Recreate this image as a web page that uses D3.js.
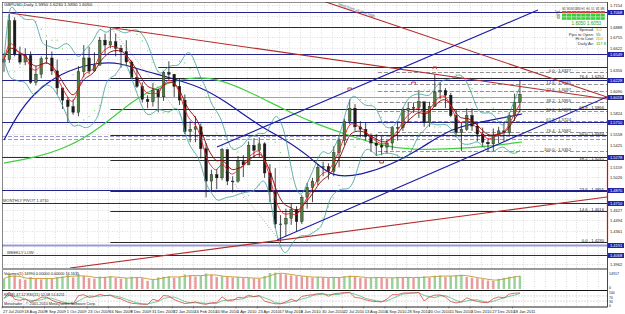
<!DOCTYPE html>
<html>
<head>
<meta charset="utf-8">
<script src="https://d3js.org/d3.v7.min.js"></script>
<style>
  body { margin: 0; background: #fff; }
  svg { display: block; font-family: "Liberation Sans", Arial, sans-serif; }
</style>
</head>
<body>
<div id="vis"></div>
<script>
// GBPUSD daily, grouped in 4 trading-day bars
var firstOpen = 1.6450;
var barCloses = [1.6480,1.6960,1.6550,1.6450,1.6530,1.6200,1.6300,1.6490,1.6500,1.6340,
  1.6130,1.5980,1.5900,1.5830,1.6330,1.6500,1.6340,1.6410,1.6720,1.6660,
  1.6700,1.6620,1.6580,1.6450,1.6260,1.6150,1.5990,1.5960,1.6100,1.6020,
  1.6320,1.6300,1.6150,1.5980,1.5590,1.5620,1.5650,1.5380,1.4980,1.5060,
  1.5020,1.5370,1.4980,1.4980,1.5220,1.5180,1.5420,1.5360,1.5440,1.5080,
  1.4850,1.4450,1.4450,1.4520,1.4630,1.4480,1.4780,1.4900,1.4980,1.5150,
  1.5160,1.5100,1.5330,1.5480,1.5720,1.5880,1.5650,1.5620,1.5530,1.5450,
  1.5420,1.5400,1.5450,1.5640,1.5640,1.5850,1.5880,1.5890,1.5960,1.5700,
  1.5900,1.6080,1.6100,1.6040,1.5790,1.5580,1.5620,1.5790,1.5660,1.5560,
  1.5460,1.5440,1.5540,1.5600,1.5580,1.5790,1.5950,1.6050];
var barHighs = [1.6560,1.7043,1.7000,1.6640,1.6620,1.6580,1.6400,1.6520,1.6720,1.6580,
  1.6480,1.6130,1.6020,1.5990,1.6400,1.6660,1.6640,1.6570,1.6760,1.6800,
  1.6877,1.6800,1.6660,1.6720,1.6470,1.6360,1.6200,1.6040,1.6190,1.6120,
  1.6340,1.6460,1.6300,1.6250,1.6050,1.5720,1.5780,1.5690,1.5450,1.5120,
  1.5130,1.5390,1.5340,1.5040,1.5290,1.5300,1.5470,1.5510,1.5520,1.5460,
  1.5190,1.5140,1.4560,1.4640,1.4700,1.4670,1.4810,1.4960,1.5020,1.5190,
  1.5220,1.5200,1.5410,1.5520,1.5750,1.5990,1.5930,1.5720,1.5700,1.5570,
  1.5560,1.5530,1.5490,1.5660,1.5710,1.5890,1.5950,1.5950,1.6105,1.5950,
  1.5960,1.6298,1.6200,1.6130,1.6070,1.5860,1.5700,1.5880,1.5880,1.5700,
  1.5640,1.5500,1.5630,1.5650,1.5700,1.5830,1.6060,1.6230];
var barLows = [1.6330,1.6440,1.6520,1.6420,1.6410,1.6180,1.6160,1.6250,1.6430,1.6290,
  1.6050,1.5870,1.5707,1.5800,1.5780,1.6260,1.6300,1.6330,1.6450,1.6550,
  1.6620,1.6520,1.6380,1.6400,1.6240,1.6130,1.5950,1.5880,1.5900,1.5830,
  1.5970,1.6230,1.6020,1.5920,1.5560,1.5460,1.5460,1.5260,1.4780,1.4860,
  1.4880,1.4990,1.4930,1.4840,1.4960,1.5030,1.5250,1.5270,1.5270,1.5020,
  1.4720,1.4400,1.4230,1.4300,1.4440,1.4360,1.4450,1.4640,1.4720,1.4930,
  1.5040,1.5000,1.5040,1.5150,1.5420,1.5680,1.5600,1.5520,1.5480,1.5340,
  1.5290,1.5300,1.5320,1.5360,1.5480,1.5600,1.5710,1.5820,1.5760,1.5650,
  1.5650,1.5990,1.5990,1.5880,1.5770,1.5520,1.5350,1.5600,1.5600,1.5470,
  1.5400,1.5340,1.5350,1.5450,1.5470,1.5550,1.5720,1.5830];
var barVolumes = [62,88,79,58,55,71,60,57,66,59,70,74,82,68,85,77,64,61,73,70,
  75,66,60,64,72,68,63,48,55,69,72,74,66,71,86,80,74,78,92,83,
  70,75,72,68,70,64,66,62,60,77,94,97,90,86,80,76,73,70,67,72,
  68,64,70,66,75,79,71,66,63,68,70,66,62,67,71,66,69,64,70,74,
  68,78,80,72,76,82,84,70,66,63,58,50,48,60,66,72,75,78];

var dateLabels = ['27 Jul 2009','18 Aug 2009','9 Sep 2009','1 Oct 2009','23 Oct 2009',
  '16 Nov 2009','8 Dec 2009','31 Dec 2009','22 Jan 2010','16 Feb 2010','10 Mar 2010',
  '1 Apr 2010','23 Apr 2010','17 May 2010','8 Jun 2010','30 Jun 2010','22 Jul 2010',
  '13 Aug 2010','6 Sep 2010','28 Sep 2010','20 Oct 2010','11 Nov 2010','3 Dec 2010',
  '27 Dec 2010','18 Jan 2011'];
var priceTicks = [1.7154,1.7021,1.6888,1.6755,1.6622,1.6489,1.6356,1.6223,1.6090,1.5957,
  1.5824,1.5691,1.5558,1.5425,1.5292,1.5159,1.5026,1.4893,1.4760,1.4627,1.4494,1.4361,
  1.4228,1.4095,1.3962];

// slow moving averages, read as points (bar index, price)
var blueMaBars = [0,3,6.8,11.9,18.1,21.9,25.7,30.8,37,41.3,48.3,52.1,57.7,61.5,67.2,72.8,78.5,84.2,89.8,97.4];
var blueMaPrices = [1.5487,1.5858,1.6142,1.6352,1.6450,1.6438,1.6352,1.6265,1.6142,1.5981,
  1.5648,1.5524,1.5278,1.5018,1.5055,1.5179,1.5389,1.5636,1.5710,1.5808];
var greenMaBars = [0,5.5,11.9,18.1,24.3,29.4,35.1,39.8,45.5,52.1,57.7,64,71,76.6,84.2,91.7,97.4];
var greenMaPrices = [1.5203,1.5265,1.5389,1.5636,1.5981,1.6166,1.6265,1.6253,1.6105,1.5883,
  1.5710,1.5562,1.5413,1.5364,1.5376,1.5413,1.5463];

// horizontal levels
var navyLevels = [1.7068,1.6549,1.6228,1.5710,1.5278,1.4870,1.4710,1.4068];
var paleLevels = [1.6018,1.4191];
var paleDashedLevels = [1.5537,1.5500];
var fibRatios = [0,14.6,23.6,38.2,50,61.8,76.4,100];
var bigFibBars = [20,52];
var bigFibPrices = [1.6877,1.4230];
var smallFibStartBar = 70.3;
var smallFibPrices = [1.6327,1.5352];
var oldHighLevel = {bar: 29, price: 1.6389};

// trend lines as [bar, price] pairs
var redTopLine = [[1.13,1.7055],[113.375,1.5994]];
var redSteepLine = [[59.4,1.7216],[113.375,1.6018]];
var redBottomLine = [[12.4,1.3907],[113.375,1.4784]];
var blueUpperLine = [[40.05,1.5401],[100.4,1.7092]];
var blueLowerLine = [[51.33,1.4253],[113.375,1.6018]];

// fractal markers
var fractalUpBars = [65,77,81];
var fractalUpPrices = [1.6130,1.6203,1.6389];
var fractalDownBars = [71];
var fractalDownPrices = [1.5203];

var width = 625;
var height = 314;
var plotLeft = 2, plotRight = 607, plotTop = 2, plotBottom = 268;

var x = d3.scaleLinear().domain([-0.375, 113.375]).range([plotLeft, plotRight]);
var y = d3.scaleLinear().domain([1.39072, 1.71911]).range([plotBottom, plotTop]);
var yVol = d3.scaleLinear().domain([0, 100]).range([289, 272]);
var yRsi = d3.scaleLinear().domain([0, 100]).range([305, 292]);

function ema(values, n) {
  var k = 2 / (n + 1);
  var out = [];
  var prev = values[0];
  values.forEach(function (v, i) {
    prev = i === 0 ? v : v * k + prev * (1 - k);
    out.push(prev);
  });
  return out;
}

function bollinger(values, n, dev) {
  return values.map(function (v, i) {
    var win = values.slice(Math.max(0, i - n + 1), i + 1);
    var m = d3.mean(win);
    var sd = Math.sqrt(d3.mean(win, function (w) { return (w - m) * (w - m); }));
    return { mid: m, up: m + dev * sd, lo: m - dev * sd };
  });
}

function parabolicSar(highs, lows, step, maxStep) {
  var out = [lows[0]];
  var up = true, af = step, ep = highs[0], sar = lows[0];
  for (var i = 1; i < highs.length; i++) {
    sar = sar + af * (ep - sar);
    if (up) {
      sar = Math.min(sar, lows[i - 1], lows[Math.max(0, i - 2)]);
      if (lows[i] < sar) { up = false; sar = ep; ep = lows[i]; af = step; }
      else if (highs[i] > ep) { ep = highs[i]; af = Math.min(af + step, maxStep); }
    } else {
      sar = Math.max(sar, highs[i - 1], highs[Math.max(0, i - 2)]);
      if (highs[i] > sar) { up = true; sar = ep; ep = highs[i]; af = step; }
      else if (lows[i] < ep) { ep = lows[i]; af = Math.min(af + step, maxStep); }
    }
    out.push(sar);
  }
  return out;
}

function rsi(values, n) {
  var out = [50];
  var ag = 0, al = 0;
  for (var i = 1; i < values.length; i++) {
    var ch = values[i] - values[i - 1];
    var g = Math.max(ch, 0), l = Math.max(-ch, 0);
    ag = (ag * (n - 1) + g) / n;
    al = (al * (n - 1) + l) / n;
    out.push(al === 0 ? 100 : 100 - 100 / (1 + ag / al));
  }
  return out;
}

function sma(values, n) {
  return values.map(function (v, i) {
    return d3.mean(values.slice(Math.max(0, i - n + 1), i + 1));
  });
}

function lvlY(p) { return Math.round(y(p)) + 0.5; }

function drawChart(selector) {
  var svg = d3.select(selector).append('svg')
    .attr('width', width).attr('height', height);

  svg.append('rect').attr('width', width).attr('height', height).attr('fill', '#fff');

  svg.append('clipPath').attr('id', 'main-clip').append('rect')
    .attr('x', plotLeft).attr('y', plotTop)
    .attr('width', plotRight - plotLeft).attr('height', plotBottom - plotTop);

  // grid
  var grid = svg.append('g').attr('stroke', '#c9c9c9').attr('stroke-width', 0.6)
    .attr('stroke-dasharray', '1,1.5');
  d3.range(0, 57).forEach(function (j) {
    var gx = Math.round(x(2 * j - 0.375)) + 0.5;
    if (gx > plotRight) return;
    grid.append('line').attr('x1', gx).attr('x2', gx).attr('y1', plotTop).attr('y2', plotBottom);
    grid.append('line').attr('x1', gx).attr('x2', gx).attr('y1', 271).attr('y2', 289);
    grid.append('line').attr('x1', gx).attr('x2', gx).attr('y1', 292).attr('y2', 306);
  });
  priceTicks.forEach(function (p) {
    grid.append('line').attr('x1', plotLeft).attr('x2', plotRight)
      .attr('y1', lvlY(p)).attr('y2', lvlY(p));
  });

  var main = svg.append('g').attr('clip-path', 'url(#main-clip)');

  // pale levels
  paleLevels.forEach(function (p, i) {
    main.append('line').attr('x1', plotLeft).attr('x2', plotRight)
      .attr('y1', lvlY(p)).attr('y2', lvlY(p))
      .attr('stroke', '#9a9ad8').attr('stroke-width', i === 1 ? 2.2 : 1);
  });
  paleDashedLevels.forEach(function (p) {
    main.append('line').attr('x1', plotLeft).attr('x2', plotRight)
      .attr('y1', lvlY(p)).attr('y2', lvlY(p))
      .attr('stroke', '#8080c8').attr('stroke-width', 0.8).attr('stroke-dasharray', '4,2');
  });

  // big fibonacci
  var fibHigh = bigFibPrices[0], fibLow = bigFibPrices[1];
  main.append('line')
    .attr('x1', x(bigFibBars[0])).attr('y1', y(fibHigh))
    .attr('x2', x(bigFibBars[1])).attr('y2', y(fibLow))
    .attr('stroke', '#888').attr('stroke-width', 0.7).attr('stroke-dasharray', '1,1.5');
  fibRatios.forEach(function (r) {
    var p = fibLow + (fibHigh - fibLow) * r / 100;
    main.append('line').attr('x1', x(bigFibBars[0])).attr('x2', plotRight)
      .attr('y1', lvlY(p)).attr('y2', lvlY(p))
      .attr('stroke', '#111').attr('stroke-width', 0.9);
    if (r === 100) return; // hidden under the info panel
    main.append('text').attr('x', 604).attr('y', lvlY(p) - 1)
      .attr('text-anchor', 'end').attr('font-size', 4.2).attr('fill', '#222')
      .text(r.toFixed(1) + ' - ' + p.toFixed(4));
  });

  // small fibonacci (dashed)
  fibRatios.forEach(function (r) {
    var p = smallFibPrices[0] - (smallFibPrices[0] - smallFibPrices[1]) * r / 100;
    main.append('line').attr('x1', x(smallFibStartBar)).attr('x2', plotRight)
      .attr('y1', lvlY(p)).attr('y2', lvlY(p))
      .attr('stroke', '#777').attr('stroke-width', 0.8).attr('stroke-dasharray', '4,2');
    main.append('text').attr('x', 571).attr('y', lvlY(p) - 1)
      .attr('text-anchor', 'end').attr('font-size', 4.2).attr('fill', '#333')
      .text(r.toFixed(1) + ' - ' + p.toFixed(4));
  });

  main.append('line').attr('x1', x(oldHighLevel.bar)).attr('x2', plotRight)
    .attr('y1', lvlY(oldHighLevel.price)).attr('y2', lvlY(oldHighLevel.price))
    .attr('stroke', '#111').attr('stroke-width', 0.9);

  // navy levels
  navyLevels.forEach(function (p) {
    main.append('line').attr('x1', plotLeft).attr('x2', plotRight)
      .attr('y1', lvlY(p)).attr('y2', lvlY(p))
      .attr('stroke', '#22228e').attr('stroke-width', 1.2);
  });

  // slow MAs
  var curve = d3.line().x(function (d) { return x(d[0]); }).y(function (d) { return y(d[1]); })
    .curve(d3.curveBasis);
  main.append('path').datum(d3.zip(greenMaBars, greenMaPrices)).attr('d', curve)
    .attr('fill', 'none').attr('stroke', '#3fcf3f').attr('stroke-width', 1.2);
  main.append('path').datum(d3.zip(blueMaBars, blueMaPrices)).attr('d', curve)
    .attr('fill', 'none').attr('stroke', '#1a1aa0').attr('stroke-width', 1.2);

  // candles
  var bars = barCloses.map(function (c, i) {
    return { i: i, o: i === 0 ? firstOpen : barCloses[i - 1], h: barHighs[i], l: barLows[i], c: c };
  });
  var candles = main.append('g');
  candles.selectAll('.wick').data(bars).enter().append('line')
    .attr('x1', function (d) { return x(d.i); }).attr('x2', function (d) { return x(d.i); })
    .attr('y1', function (d) { return y(d.h); }).attr('y2', function (d) { return y(d.l); })
    .attr('stroke', '#1c1c1c').attr('stroke-width', 0.8);
  candles.selectAll('.body').data(bars).enter().append('rect')
    .attr('x', function (d) { return x(d.i) - 1.3; })
    .attr('width', 2.6)
    .attr('y', function (d) { return y(Math.max(d.o, d.c)); })
    .attr('height', function (d) { return Math.max(0.7, Math.abs(y(d.o) - y(d.c))); })
    .attr('fill', function (d) { return d.c >= d.o ? '#4f7f3f' : '#1a1a1a'; })
    .attr('stroke', '#1c1c1c').attr('stroke-width', 0.4);

  // indicators from the bars
  var line = d3.line().x(function (d, i) { return x(i); }).y(function (d) { return y(d); })
    .curve(d3.curveBasis);
  var bands = bollinger(barCloses, 6, 2);
  main.append('path').datum(bands.map(function (b) { return b.up; })).attr('d', line)
    .attr('fill', 'none').attr('stroke', '#3e9e96').attr('stroke-width', 0.8);
  main.append('path').datum(bands.map(function (b) { return b.lo; })).attr('d', line)
    .attr('fill', 'none').attr('stroke', '#3e9e96').attr('stroke-width', 0.8);
  main.append('path').datum(ema(barCloses, 5)).attr('d', line)
    .attr('fill', 'none').attr('stroke', '#8b0000').attr('stroke-width', 0.9);
  main.append('path').datum(ema(barCloses, 3)).attr('d', line)
    .attr('fill', 'none').attr('stroke', '#e02020').attr('stroke-width', 0.9);

  var sar = parabolicSar(barHighs, barLows, 0.04, 0.3);
  main.selectAll('.sar').data(sar).enter().append('circle')
    .attr('cx', function (d, i) { return x(i); }).attr('cy', function (d) { return y(d); })
    .attr('r', 0.6).attr('fill', '#5fd34a');

  // trend lines
  [[redTopLine, '#b52a2a'], [redSteepLine, '#b52a2a'], [redBottomLine, '#b52a2a'],
   [blueUpperLine, '#1e1ea8'], [blueLowerLine, '#1e1ea8']].forEach(function (t) {
    var l = t[0];
    main.append('line')
      .attr('x1', x(l[0][0])).attr('y1', y(l[0][1]))
      .attr('x2', x(l[1][0])).attr('y2', y(l[1][1]))
      .attr('stroke', t[1]).attr('stroke-width', 1.1);
  });
  var sx1 = x(redSteepLine[0][0]), sy1 = y(redSteepLine[0][1]);
  var sx2 = x(redSteepLine[1][0]), sy2 = y(redSteepLine[1][1]);
  var ang = Math.atan2(sy2 - sy1, sx2 - sx1) * 180 / Math.PI;
  var tx = sx1 + 18, ty = sy1 + (sy2 - sy1) * 18 / (sx2 - sx1);
  main.append('text').attr('font-size', 3.8).attr('fill', '#555')
    .attr('transform', 'translate(' + tx + ',' + (ty - 1) + ') rotate(' + ang + ')')
    .text('trend from all time high');

  // fractals
  fractalUpBars.forEach(function (b, i) {
    var fx = x(b), fy = y(fractalUpPrices[i]);
    main.append('path').attr('d', 'M' + (fx - 1.8) + ',' + (fy + 2.2) + 'V' + fy + 'H' + (fx + 1.8) + 'V' + (fy + 2.2))
      .attr('fill', 'none').attr('stroke', '#d42020').attr('stroke-width', 0.9);
  });
  fractalDownBars.forEach(function (b, i) {
    var fx = x(b), fy = y(fractalDownPrices[i]);
    main.append('path').attr('d', 'M' + (fx - 1.8) + ',' + (fy - 2.2) + 'V' + fy + 'H' + (fx + 1.8) + 'V' + (fy - 2.2))
      .attr('fill', 'none').attr('stroke', '#d42020').attr('stroke-width', 0.9);
  });

  // chart texts
  svg.append('text').attr('x', 4).attr('y', 6).attr('font-size', 4.4).attr('fill', '#222')
    .text('GBPUSD,Daily  ' + bars[bars.length - 1].o.toFixed(4) + ' ' + barHighs[barHighs.length - 1].toFixed(4) +
      ' ' + barLows[barLows.length - 1].toFixed(4) + ' ' + barCloses[barCloses.length - 1].toFixed(4));
  svg.append('text').attr('x', 3).attr('y', lvlY(navyLevels[6]) - 1.5).attr('font-size', 4).attr('fill', '#333')
    .text('MONTHLY PIVOT ' + navyLevels[6].toFixed(4));
  svg.append('text').attr('x', 7).attr('y', lvlY(navyLevels[7]) - 1.5).attr('font-size', 4).attr('fill', '#333')
    .text('WEEKLY LOW');

  // info panel
  var tfs = ['M1','M5','M15','M30','H1','H4','D1','W1','MN'];
  tfs.forEach(function (t, i) {
    svg.append('text').attr('x', 564 + i * 4.8).attr('y', 9.5).attr('font-size', 2.6)
      .attr('text-anchor', 'middle').attr('fill', '#333').text(t);
    svg.append('rect').attr('x', 562 + i * 4.8).attr('y', 11).attr('width', 4.4).attr('height', 2.4).attr('fill', '#e04040');
    svg.append('rect').attr('x', 562 + i * 4.8).attr('y', 14).attr('width', 4.4).attr('height', 2.6).attr('fill', '#38d038');
    svg.append('rect').attr('x', 562 + i * 4.8).attr('y', 17.2).attr('width', 4.4).attr('height', 2.6).attr('fill', '#38d038');
  });
  ['Trnd', 'Sig', 'Str'].forEach(function (t, i) {
    svg.append('text').attr('x', 560).attr('y', 13.2 + i * 3.1).attr('font-size', 2.6)
      .attr('text-anchor', 'end').attr('fill', '#333').text(t);
  });
  svg.append('text').attr('x', 601).attr('y', 24.5).attr('font-size', 4.6).attr('text-anchor', 'end')
    .attr('fill', '#1aa01a').text(barCloses[barCloses.length - 1].toFixed(4) + ' ' + (barCloses[barCloses.length - 1] + 0.0003).toFixed(4));
  var info = [['Spread:', '3.0', '#d4a000'], ['Pips to Open:', '55', '#20a020'],
    ['Hi to Low:', '200', '#d4a000'], ['Daily Av:', '117.8', '#20a020']];
  info.forEach(function (r, i) {
    svg.append('text').attr('x', 594).attr('y', 31 + i * 4.6).attr('font-size', 4.2)
      .attr('text-anchor', 'end').attr('fill', '#333').text(r[0]);
    svg.append('text').attr('x', 596).attr('y', 31 + i * 4.6).attr('font-size', 4.2)
      .attr('fill', r[2]).text(r[1]);
  });

  // price axis
  svg.append('line').attr('x1', plotRight + 0.5).attr('x2', plotRight + 0.5)
    .attr('y1', plotTop).attr('y2', 307).attr('stroke', '#222').attr('stroke-width', 0.8);
  svg.append('line').attr('x1', plotRight + 0.5).attr('x2', plotRight + 0.5)
    .attr('y1', y(1.5220)).attr('y2', y(1.4230)).attr('stroke', '#e01010').attr('stroke-width', 1.2);
  var boxed = navyLevels.concat(paleLevels);
  priceTicks.forEach(function (p) {
    var near = boxed.some(function (b) { return Math.abs(y(b) - y(p)) < 5.5; });
    if (near) return;
    svg.append('text').attr('x', 610).attr('y', lvlY(p) + 1.5).attr('font-size', 4)
      .attr('fill', '#222').text(p.toFixed(4));
  });
  boxed.forEach(function (p) {
    svg.append('rect').attr('x', 608).attr('y', lvlY(p) - 2.5).attr('width', 16).attr('height', 5)
      .attr('fill', '#2424a8');
    svg.append('text').attr('x', 610).attr('y', lvlY(p) + 1.5).attr('font-size', 4)
      .attr('fill', '#fff').text(p.toFixed(4));
  });

  // frames and separators
  svg.append('rect').attr('x', plotLeft + 0.5).attr('y', plotTop + 0.5)
    .attr('width', plotRight - plotLeft).attr('height', 305)
    .attr('fill', 'none').attr('stroke', '#444').attr('stroke-width', 0.6);
  svg.append('rect').attr('x', plotLeft).attr('y', 268).attr('width', plotRight - plotLeft).attr('height', 2)
    .attr('fill', '#9a9a9a');
  svg.append('line').attr('x1', plotLeft).attr('x2', plotRight).attr('y1', 290.5).attr('y2', 290.5)
    .attr('stroke', '#111').attr('stroke-width', 1);
  svg.append('line').attr('x1', plotLeft).attr('x2', plotRight).attr('y1', 306.5).attr('y2', 306.5)
    .attr('stroke', '#444').attr('stroke-width', 0.6);

  // volume panel
  var vol = svg.append('g');
  vol.selectAll('rect').data(barVolumes).enter().append('rect')
    .attr('x', function (d, i) { return x(i) - 1.2; }).attr('width', 2.4)
    .attr('y', function (d) { return yVol(d); })
    .attr('height', function (d) { return yVol(0) - yVol(d); })
    .attr('fill', function (d, i) { return i > 0 && d < barVolumes[i - 1] ? '#e89a9a' : '#9ad09a'; });
  var vline = d3.line().x(function (d, i) { return x(i); }).y(function (d) { return yVol(d); })
    .curve(d3.curveBasis);
  vol.append('path').datum(sma(barVolumes, 3)).attr('d', vline)
    .attr('fill', 'none').attr('stroke', '#c8962a').attr('stroke-width', 0.9);
  svg.append('text').attr('x', 4).attr('y', 274.5).attr('font-size', 3.8).attr('fill', '#222')
    .text('Volumes(1) 14990  0.00000  0.00000  16.1635');
  svg.append('text').attr('x', 609).attr('y', 275).attr('font-size', 3.6).attr('fill', '#222').text('14917');
  svg.append('text').attr('x', 609).attr('y', 289).attr('font-size', 3.6).attr('fill', '#222').text('0');

  // rsi panel
  var rs = rsi(barCloses, 3);
  [30, 70].forEach(function (lv) {
    svg.append('line').attr('x1', plotLeft).attr('x2', plotRight).attr('y1', yRsi(lv)).attr('y2', yRsi(lv))
      .attr('stroke', '#bbb').attr('stroke-width', 0.5).attr('stroke-dasharray', '2,1');
  });
  var rline = d3.line().x(function (d, i) { return x(i); }).y(function (d) { return yRsi(d); });
  svg.append('path').datum(sma(rs, 3)).attr('d', rline)
    .attr('fill', 'none').attr('stroke', '#3cb371').attr('stroke-width', 0.7);
  svg.append('path').datum(rs).attr('d', rline)
    .attr('fill', 'none').attr('stroke', '#d03030').attr('stroke-width', 0.7);
  svg.append('text').attr('x', 4).attr('y', 295.5).attr('font-size', 3.8).attr('fill', '#222')
    .text('RSI(8) 47.12  RSI(21) 52.08  51.6211');
  svg.append('text').attr('x', 4).attr('y', 305).attr('font-size', 3.8).attr('fill', '#222')
    .text('Metatrader - © 2001-2010 MetaQuotes Software Corp.');
  ['100', '70', '30', '0'].forEach(function (t, i) {
    svg.append('text').attr('x', 609).attr('y', [294, 299, 303, 306.5][i]).attr('font-size', 3.4)
      .attr('fill', '#222').text(t);
  });

  // date axis
  dateLabels.forEach(function (t, j) {
    var dx = x(4 * j - 0.375);
    svg.append('line').attr('x1', dx).attr('x2', dx).attr('y1', 306.5).attr('y2', 308.5)
      .attr('stroke', '#333').attr('stroke-width', 0.5);
    svg.append('text').attr('x', dx + 1).attr('y', 312.5).attr('font-size', 4)
      .attr('fill', '#222').text(t);
  });
}

drawChart('#vis');
</script>
</body>
</html>
